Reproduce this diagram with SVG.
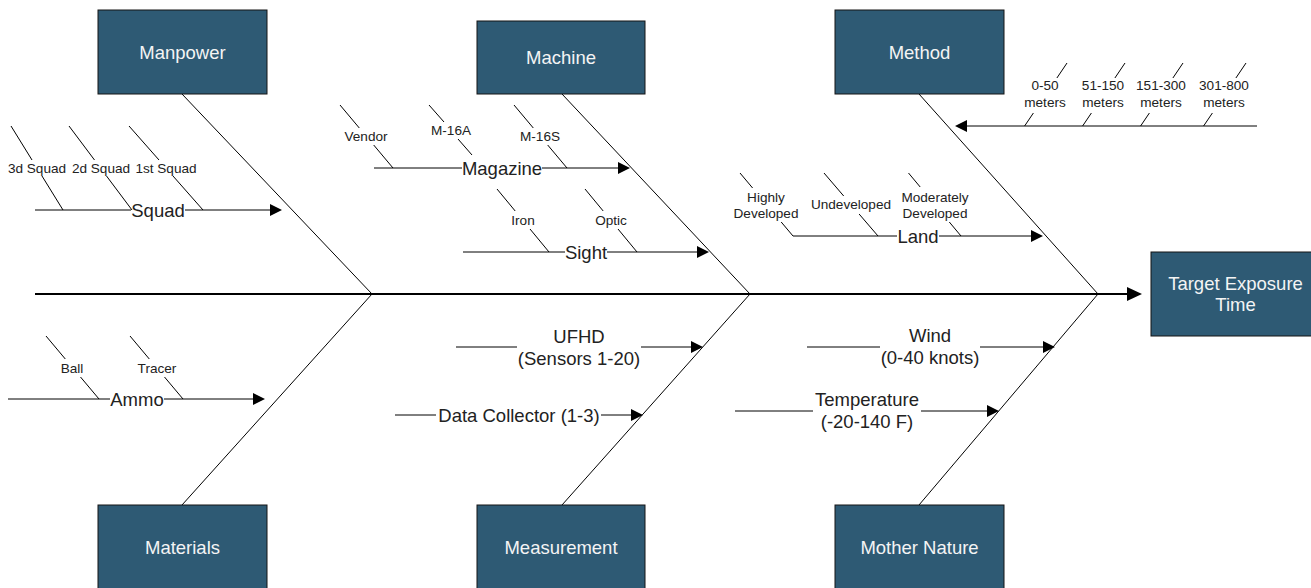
<svg xmlns="http://www.w3.org/2000/svg" width="1311" height="588" viewBox="0 0 1311 588">
  <style>
    .box { fill: #2e5a74; stroke: #151515; stroke-width: 1; }
    .boxtxt { font-family: "Liberation Sans", Arial, sans-serif; font-size: 18.5px; fill: #f4f4f4; text-anchor: middle; }
    .lbl { font-family: "Liberation Sans", Arial, sans-serif; font-size: 18.5px; fill: #222; text-anchor: middle; }
    .sm { font-family: "Liberation Sans", Arial, sans-serif; font-size: 13.6px; fill: #222; text-anchor: middle; }
    .ln { stroke: #000; stroke-width: 1; fill: none; }
    .spine { stroke: #000; stroke-width: 2; fill: none; }
    .arr { marker-end: url(#ah); }
  </style>
  <defs>
    <marker id="ah" markerUnits="userSpaceOnUse" markerWidth="12" markerHeight="12" refX="0" refY="6" orient="auto" overflow="visible">
      <path d="M0,0 L12,6 L0,12 z" fill="#000"/>
    </marker>
    <marker id="ahBig" markerUnits="userSpaceOnUse" markerWidth="15" markerHeight="14" refX="0" refY="7" orient="auto" overflow="visible">
      <path d="M0,0 L15,7 L0,14 z" fill="#000"/>
    </marker>
  </defs>
  <rect width="1311" height="588" fill="#fff"/>

  <!-- connectors: spine, main bones, cause lines and their sub-causes -->
  <g id="connectors">
    <line class="spine" x1="35" y1="294" x2="1127" y2="294" marker-end="url(#ahBig)"/>

    <!-- main bones -->
    <line class="ln" x1="182" y1="94" x2="372" y2="294"/>
    <line class="ln" x1="182" y1="505" x2="372" y2="294"/>
    <line class="ln" x1="562" y1="94" x2="750" y2="294"/>
    <line class="ln" x1="562" y1="505" x2="750" y2="294"/>
    <line class="ln" x1="919" y1="94" x2="1098" y2="294"/>
    <line class="ln" x1="919" y1="505" x2="1098" y2="294"/>

    <!-- Squad -->
    <line class="ln" x1="35" y1="210" x2="131" y2="210"/>
    <line class="ln arr" x1="185" y1="210" x2="270" y2="210"/>
    <line class="ln" x1="11" y1="126" x2="32" y2="160"/>
    <line class="ln" x1="42" y1="176" x2="63" y2="210"/>
    <line class="ln" x1="69" y1="126" x2="94.5" y2="160"/>
    <line class="ln" x1="106.5" y1="176" x2="132" y2="210"/>
    <line class="ln" x1="129" y1="126" x2="159" y2="160"/>
    <line class="ln" x1="173" y1="176" x2="203" y2="210"/>

    <!-- Magazine -->
    <line class="ln" x1="374" y1="168" x2="462" y2="168"/>
    <line class="ln arr" x1="542" y1="168" x2="618" y2="168"/>
    <line class="ln" x1="340" y1="105" x2="359.3" y2="128"/>
    <line class="ln" x1="373.7" y1="145" x2="393" y2="168"/>
    <line class="ln" x1="429" y1="105" x2="444" y2="122"/>
    <line class="ln" x1="458" y1="139" x2="472" y2="155"/>
    <line class="ln" x1="514" y1="105" x2="533.3" y2="128"/>
    <line class="ln" x1="547.7" y1="145" x2="567" y2="168"/>

    <!-- Sight -->
    <line class="ln" x1="463" y1="252" x2="565" y2="252"/>
    <line class="ln arr" x1="607" y1="252" x2="697" y2="252"/>
    <line class="ln" x1="497" y1="189" x2="515.2" y2="211"/>
    <line class="ln" x1="530" y1="229" x2="549" y2="252"/>
    <line class="ln" x1="585" y1="189" x2="603.2" y2="211"/>
    <line class="ln" x1="618" y1="229" x2="637" y2="252"/>

    <!-- Land -->
    <line class="ln" x1="793" y1="236" x2="897" y2="236"/>
    <line class="ln arr" x1="939" y1="236" x2="1031" y2="236"/>
    <line class="ln" x1="740" y1="173" x2="752.6" y2="188"/>
    <line class="ln" x1="781.2" y1="222" x2="793" y2="236"/>
    <line class="ln" x1="824" y1="173" x2="843.7" y2="196"/>
    <line class="ln" x1="859.1" y1="214" x2="878" y2="236"/>
    <line class="ln" x1="908.5" y1="173" x2="920.2" y2="187"/>
    <line class="ln" x1="949.3" y1="222" x2="961" y2="236"/>

    <!-- Distance -->
    <line class="ln arr" x1="1257" y1="126" x2="967" y2="126"/>
    <line class="ln" x1="1067" y1="63" x2="1056.9" y2="78"/>
    <line class="ln" x1="1033.4" y1="113" x2="1024.6" y2="126"/>
    <line class="ln" x1="1125" y1="63" x2="1114.9" y2="78"/>
    <line class="ln" x1="1091.4" y1="113" x2="1082.6" y2="126"/>
    <line class="ln" x1="1183" y1="63" x2="1172.9" y2="78"/>
    <line class="ln" x1="1149.4" y1="113" x2="1140.6" y2="126"/>
    <line class="ln" x1="1246" y1="63" x2="1235.9" y2="78"/>
    <line class="ln" x1="1212.4" y1="113" x2="1203.6" y2="126"/>

    <!-- Ammo -->
    <line class="ln" x1="8" y1="399" x2="110" y2="399"/>
    <line class="ln arr" x1="164" y1="399" x2="253" y2="399"/>
    <line class="ln" x1="46" y1="336" x2="65.3" y2="359"/>
    <line class="ln" x1="80.5" y1="377" x2="99" y2="399"/>
    <line class="ln" x1="130" y1="336" x2="149.3" y2="359"/>
    <line class="ln" x1="164.5" y1="377" x2="183" y2="399"/>

    <!-- UFHD -->
    <line class="ln" x1="456" y1="347" x2="517" y2="347"/>
    <line class="ln arr" x1="641" y1="347" x2="691" y2="347"/>

    <!-- Data Collector -->
    <line class="ln" x1="395" y1="415" x2="436" y2="415"/>
    <line class="ln arr" x1="601" y1="415" x2="631" y2="415"/>

    <!-- Wind -->
    <line class="ln" x1="807" y1="347" x2="880" y2="347"/>
    <line class="ln arr" x1="980" y1="347" x2="1043" y2="347"/>

    <!-- Temperature -->
    <line class="ln" x1="735" y1="411" x2="813" y2="411"/>
    <line class="ln arr" x1="921" y1="411" x2="987" y2="411"/>
  </g>

  <!-- category boxes -->
  <g id="manpower">
    <rect class="box" x="98" y="10" width="169" height="84"/>
    <text class="boxtxt" x="182.5" y="58.5">Manpower</text>
  </g>
  <g id="machine">
    <rect class="box" x="477" y="21" width="168" height="73"/>
    <text class="boxtxt" x="561" y="63.5">Machine</text>
  </g>
  <g id="method">
    <rect class="box" x="835" y="10" width="169" height="84"/>
    <text class="boxtxt" x="919.5" y="58.5">Method</text>
  </g>
  <g id="materials">
    <rect class="box" x="98" y="505" width="169" height="84"/>
    <text class="boxtxt" x="182.5" y="553.5">Materials</text>
  </g>
  <g id="measurement">
    <rect class="box" x="477" y="505" width="168" height="84"/>
    <text class="boxtxt" x="561" y="553.5">Measurement</text>
  </g>
  <g id="mother-nature">
    <rect class="box" x="835" y="505" width="169" height="84"/>
    <text class="boxtxt" x="919.5" y="553.5">Mother Nature</text>
  </g>
  <g id="target-exposure-time">
    <rect class="box" x="1151" y="252" width="169" height="84"/>
    <text class="boxtxt" x="1235.5" y="289.5">Target Exposure</text>
    <text class="boxtxt" x="1235.5" y="310.5">Time</text>
  </g>

  <!-- cause labels -->
  <g id="squad">
    <text class="lbl" x="158" y="216.5">Squad</text>
    <text class="sm" x="37" y="172.7">3d Squad</text>
    <text class="sm" x="101" y="172.7">2d Squad</text>
    <text class="sm" x="166" y="172.7">1st Squad</text>
  </g>
  <g id="magazine">
    <text class="lbl" x="502" y="174.5">Magazine</text>
    <text class="sm" x="366" y="141.2">Vendor</text>
    <text class="sm" x="451" y="134.5">M-16A</text>
    <text class="sm" x="540" y="141.2">M-16S</text>
  </g>
  <g id="sight">
    <text class="lbl" x="586" y="258.5">Sight</text>
    <text class="sm" x="523" y="224.7">Iron</text>
    <text class="sm" x="611" y="224.7">Optic</text>
  </g>
  <g id="land">
    <text class="lbl" x="918" y="242.5">Land</text>
    <text class="sm" x="766" y="201.7">Highly</text>
    <text class="sm" x="766" y="217.7">Developed</text>
    <text class="sm" x="851" y="208.7">Undeveloped</text>
    <text class="sm" x="935" y="201.7">Moderately</text>
    <text class="sm" x="935" y="217.7">Developed</text>
  </g>
  <g id="distance">
    <text class="sm" x="1045" y="89.7">0-50</text>
    <text class="sm" x="1045" y="106.7">meters</text>
    <text class="sm" x="1103" y="89.7">51-150</text>
    <text class="sm" x="1103" y="106.7">meters</text>
    <text class="sm" x="1161" y="89.7">151-300</text>
    <text class="sm" x="1161" y="106.7">meters</text>
    <text class="sm" x="1224" y="89.7">301-800</text>
    <text class="sm" x="1224" y="106.7">meters</text>
  </g>
  <g id="ammo">
    <text class="lbl" x="137" y="405.5">Ammo</text>
    <text class="sm" x="72" y="372.7">Ball</text>
    <text class="sm" x="157" y="372.7">Tracer</text>
  </g>
  <g id="ufhd">
    <text class="lbl" x="579" y="342.5">UFHD</text>
    <text class="lbl" x="579" y="364.5">(Sensors 1-20)</text>
  </g>
  <g id="data-collector">
    <text class="lbl" x="519" y="421.5">Data Collector (1-3)</text>
  </g>
  <g id="wind">
    <text class="lbl" x="930" y="341.5">Wind</text>
    <text class="lbl" x="930" y="363.5">(0-40 knots)</text>
  </g>
  <g id="temperature">
    <text class="lbl" x="867" y="405.5">Temperature</text>
    <text class="lbl" x="867" y="427.5">(-20-140 F)</text>
  </g>
</svg>
